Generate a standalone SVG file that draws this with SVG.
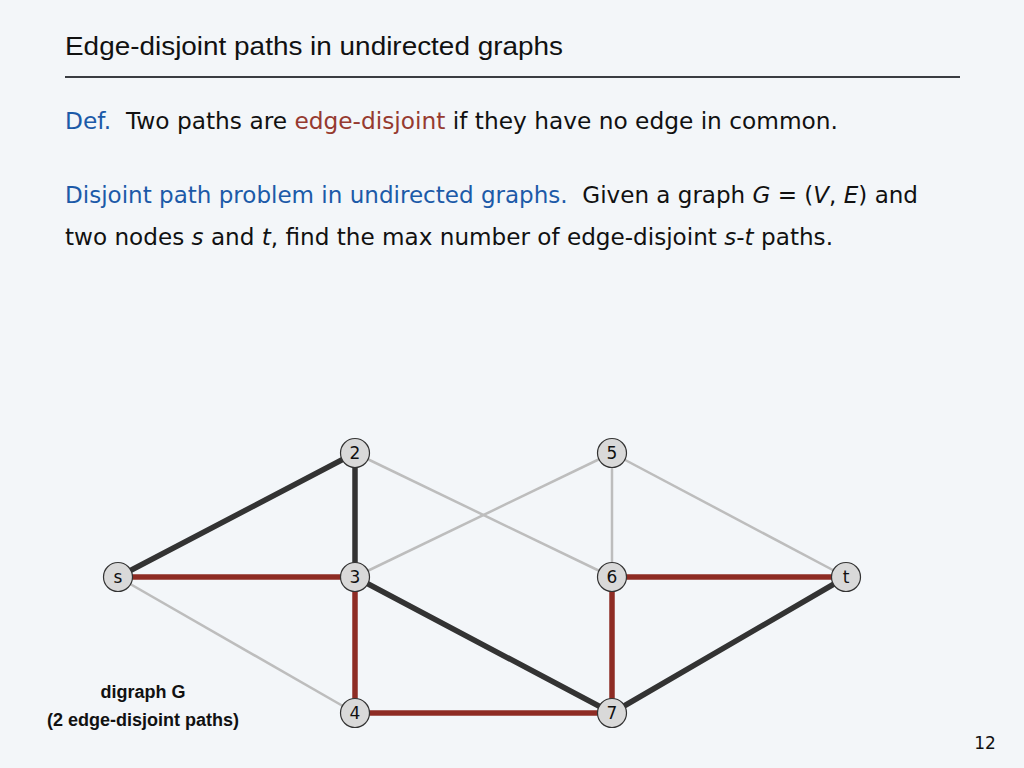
<svg xmlns="http://www.w3.org/2000/svg" width="1024" height="768" viewBox="0 0 1024 768">
<style>
.title{font-family:"Liberation Sans",Arial,sans-serif;font-size:26px;fill:#111}
.body{font-family:"DejaVu Sans","Open Sans",sans-serif;font-size:23px;fill:#111}
.blue{fill:#1c5aa8}
.red{fill:#963a30}
.it{font-style:italic}
.dark{stroke:#333;stroke-width:5.5;stroke-linecap:round}
.redE{stroke:#8e2c24;stroke-width:5.5}
.gray{stroke:#bdbdbd;stroke-width:2.5}
.node circle{fill:#d9d9d9;stroke:#333;stroke-width:1.2}
.node text{font-family:"DejaVu Sans","Open Sans",sans-serif;font-size:17px;fill:#111;text-anchor:middle}
.cap{font-family:"Liberation Sans",Arial,sans-serif;font-size:18px;font-weight:bold;fill:#111;text-anchor:middle}
</style>
<rect width="1024" height="768" fill="#f3f6f9"/>
<text class="title" x="65" y="55" textLength="498" lengthAdjust="spacingAndGlyphs">Edge-disjoint paths in undirected graphs</text>
<line x1="65" y1="77" x2="960" y2="77" stroke="#3a3d42" stroke-width="2"/>
<text class="body" x="65" y="129" xml:space="preserve" textLength="773" lengthAdjust="spacingAndGlyphs"><tspan class="blue">Def.</tspan>  Two paths are <tspan class="red">edge-disjoint</tspan> if they have no edge in common.</text>
<text class="body" x="65" y="203" xml:space="preserve" textLength="853" lengthAdjust="spacingAndGlyphs"><tspan class="blue">Disjoint path problem in undirected graphs.</tspan>  Given a graph <tspan class="it">G</tspan> = (<tspan class="it">V</tspan>, <tspan class="it">E</tspan>) and</text>
<text class="body" x="65" y="245" textLength="768" lengthAdjust="spacingAndGlyphs">two nodes <tspan class="it">s</tspan> and <tspan class="it">t</tspan>, find the max number of edge-disjoint <tspan class="it">s</tspan>-<tspan class="it">t</tspan> paths.</text>
<g id="edges">
<line class="gray" x1="118" y1="577" x2="355" y2="713"/>
<line class="gray" x1="355" y1="453" x2="612" y2="577"/>
<line class="gray" x1="355" y1="577" x2="612" y2="453"/>
<line class="gray" x1="612" y1="453" x2="612" y2="577"/>
<line class="gray" x1="612" y1="453" x2="846" y2="577"/>
<line class="dark" x1="118" y1="577" x2="355" y2="453"/>
<line class="dark" x1="355" y1="453" x2="355" y2="577"/>
<line class="dark" x1="355" y1="577" x2="612" y2="713"/>
<line class="dark" x1="612" y1="713" x2="846" y2="577"/>
<line class="redE" x1="118" y1="577" x2="355" y2="577"/>
<line class="redE" x1="355" y1="577" x2="355" y2="713"/>
<line class="redE" x1="355" y1="713" x2="612" y2="713"/>
<line class="redE" x1="612" y1="713" x2="612" y2="577"/>
<line class="redE" x1="612" y1="577" x2="846" y2="577"/>
</g>
<g id="node-s" class="node"><circle cx="118" cy="577" r="14.5"/><text x="118" y="583">s</text></g>
<g id="node-2" class="node"><circle cx="355" cy="453" r="14.5"/><text x="355" y="459">2</text></g>
<g id="node-3" class="node"><circle cx="355" cy="577" r="14.5"/><text x="355" y="583">3</text></g>
<g id="node-4" class="node"><circle cx="355" cy="713" r="14.5"/><text x="355" y="719">4</text></g>
<g id="node-5" class="node"><circle cx="612" cy="453" r="14.5"/><text x="612" y="459">5</text></g>
<g id="node-6" class="node"><circle cx="612" cy="577" r="14.5"/><text x="612" y="583">6</text></g>
<g id="node-7" class="node"><circle cx="612" cy="713" r="14.5"/><text x="612" y="719">7</text></g>
<g id="node-t" class="node"><circle cx="846" cy="577" r="14.5"/><text x="846" y="583">t</text></g>
<text class="cap" x="143" y="698">digraph G</text>
<text class="cap" x="143" y="726">(2 edge-disjoint paths)</text>
<text x="985" y="749" font-family="DejaVu Sans,sans-serif" font-size="17" fill="#111" text-anchor="middle">12</text>
</svg>
